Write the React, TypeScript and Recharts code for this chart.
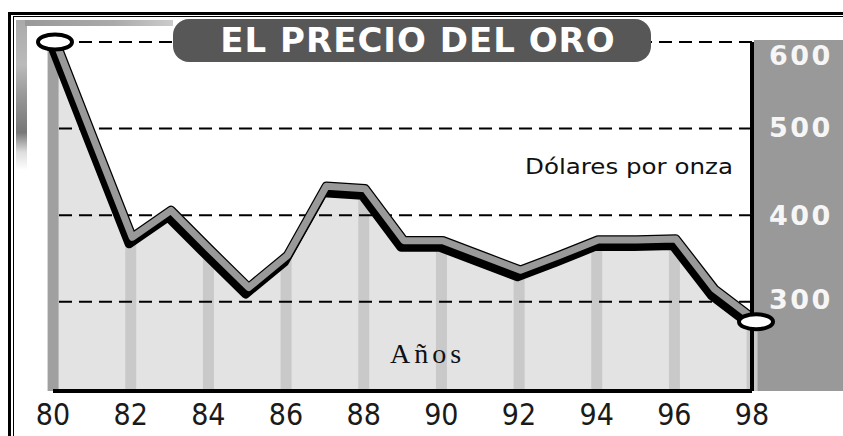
import React from 'react';
import { ComposedChart, XAxis, YAxis, Area, Bar, Cell, Line, ReferenceLine } from 'recharts';

const years = [80, 81, 82, 83, 84, 85, 86, 87, 88, 89, 90, 91, 92, 93, 94, 95, 96, 97, 98];
const prices = [600, 485, 371, 402, 357, 313, 350, 430, 427, 367, 367, 350, 333, 350, 368, 368, 369, 311, 277];
const xTicks = [80, 82, 84, 86, 88, 90, 92, 94, 96, 98];
const yTicks = [300, 400, 500, 600];
const title = 'EL PRECIO DEL ORO';
const unitLabel = 'Dólares por onza';
const xLabel = 'Años';

const data = years.map((y, i) => ({ year: y, price: prices[i], bar: y % 2 === 0 ? prices[i] : null }));

const XTick = (props: any) => {
  const { x, y, payload } = props;
  return (
    <text x={x} y={y + 32} textAnchor="middle" fontFamily="'DejaVu Sans Condensed', 'DejaVu Sans'" fontSize={30} fill="#1a1a1a">
      {payload.value}
    </text>
  );
};

const YTick = (props: any) => {
  const { x, y, payload } = props;
  const v = payload.value;
  const shift = v === 600 ? 13 : v === 500 ? -1 : v === 300 ? -3 : 0;
  return (
    <text x={x + 15} y={y + shift} dy="0.36em" textAnchor="start" fontFamily="'DejaVu Sans'" fontWeight="bold" fontSize={27} letterSpacing={2.5} fill="#f6f6f6">
      {v}
    </text>
  );
};

const lastIdx = prices.length - 1;
const EndDot = (props: any) => {
  const { cx, cy, index } = props;
  if (index !== 0 && index !== lastIdx) return <g key={`d${index}`} />;
  return <ellipse key={`d${index}`} cx={cx + (index === 0 ? 2 : 4)} cy={cy} rx={17} ry={7.5} fill="#fff" stroke="#000" strokeWidth={4} />;
};

export default function App() {
  return (
    <div style={{ position: 'relative', width: 843, height: 436, background: '#fff', overflow: 'hidden' }}>
      <style>{`body{margin:0}
        .gl-shadow{transform:translate(-1.5px,3.5px)}
        .gl-top{transform:translate(1.5px,-3px)}`}</style>
      {/* frame */}
      <div style={{ position: 'absolute', left: 8, top: 12, width: 900, height: 421, borderTop: '3px solid #000', borderLeft: '3px solid #000', borderBottom: '2px solid #333' }} />
      <div style={{ position: 'absolute', left: 13, top: 16, width: 900, height: 430, borderTop: '1px solid #000', borderLeft: '1px solid #000' }} />
      {/* scan artifacts */}
      <div style={{ position: 'absolute', left: 16, top: 20, width: 11, height: 150, background: 'linear-gradient(to bottom, #aaa 0%, #bbb 30%, #999 50%, #777 75%, #ddd 88%, #fff 100%)' }} />
      <div style={{ position: 'absolute', left: 25, top: 20, width: 148, height: 6, background: 'linear-gradient(to right, #999, #aaa 60%, #ccc)' }} />
      {/* right panel */}
      <div style={{ position: 'absolute', left: 754, top: 40, width: 95, height: 351, background: '#999' }} />
      <div style={{ position: 'absolute', left: 0, top: 0 }}>
        <ComposedChart width={843} height={436} data={data} margin={{ top: 42, right: 0, bottom: 0, left: 53 }}>
          <XAxis
            type="number"
            dataKey="year"
            domain={[80, 98]}
            ticks={xTicks}
            interval={0}
            height={45}
            tickSize={0}
            tickLine={false}
            axisLine={{ stroke: '#000', strokeWidth: 4 }}
            tick={XTick}
          />
          <YAxis
            orientation="right"
            type="number"
            domain={[197, 600]}
            ticks={yTicks}
            interval={0}
            width={91}
            tickSize={0}
            tickLine={false}
            axisLine={{ stroke: '#000', strokeWidth: 4 }}
            tick={YTick}
          />
          <Area type="linear" dataKey="price" fill="#e3e3e3" fillOpacity={1} stroke="none" isAnimationActive={false} dot={false} activeDot={false} />
          <Bar dataKey="bar" barSize={11} isAnimationActive={false}>
            {data.map((d, i) => (
              <Cell key={i} fill={i === 0 ? '#a0a0a0' : '#c9c9c9'} />
            ))}
          </Bar>
          {yTicks.map((t) => (
            <ReferenceLine key={t} y={t} stroke="#000" strokeWidth={2} strokeDasharray="13 7" zIndex={350} />
          ))}
          <Line className="gl-shadow" type="linear" dataKey="price" stroke="#000" strokeWidth={9} strokeLinejoin="round" dot={false} activeDot={false} isAnimationActive={false} />
          <Line className="gl-top" type="linear" dataKey="price" stroke="#000" strokeWidth={9.5} strokeLinejoin="round" dot={false} activeDot={false} isAnimationActive={false} />
          <Line className="gl-top" type="linear" dataKey="price" stroke="#999" strokeWidth={7} strokeLinejoin="round" dot={false} activeDot={false} isAnimationActive={false} />
          <Line type="linear" dataKey="price" stroke="none" dot={EndDot} activeDot={false} isAnimationActive={false} />
        </ComposedChart>
      </div>
      {/* overlay texts */}
      <svg width={843} height={436} style={{ position: 'absolute', left: 0, top: 0, pointerEvents: 'none' }}>
        <rect x={173} y={19} width={478} height={43} rx={16} fill="#575757" />
        <text x={418} y={52} textAnchor="middle" fontFamily="'DejaVu Sans'" fontWeight="bold" fontSize={34} letterSpacing={1} fill="#fff">
          {title}
        </text>
        <text x={525} y={174} textLength={208} lengthAdjust="spacingAndGlyphs" fontFamily="'DejaVu Sans Condensed', 'DejaVu Sans'" fontSize={22} fill="#111">
          {unitLabel}
        </text>
        <text x={390} y={363} fontFamily="'Liberation Serif'" fontSize={28} letterSpacing={4} fill="#111">
          {xLabel}
        </text>
      </svg>
    </div>
  );
}
